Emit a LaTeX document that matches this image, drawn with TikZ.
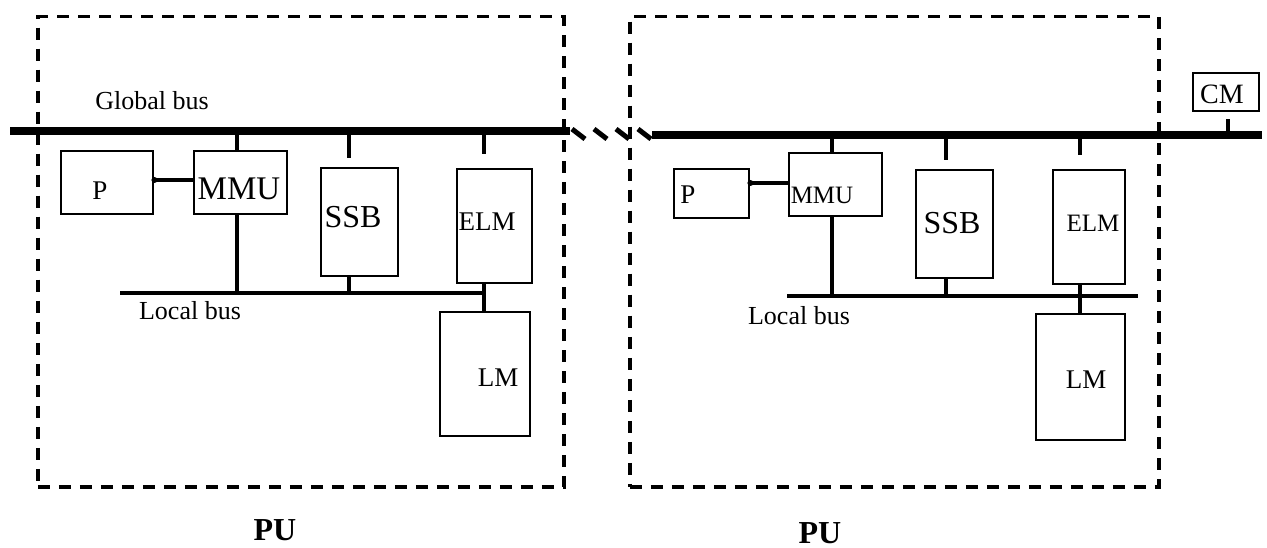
\documentclass[tikz,border=0pt]{standalone}
\usepackage{fontspec}
\setmainfont{Liberation Serif}
\begin{document}
\begin{tikzpicture}[x=1pt, y=-1pt, line cap=butt, line join=miter,
    box/.style={draw, line width=2.4pt, anchor=north west, inner sep=0pt},
    pubox/.style={draw, line width=3.5pt, dash pattern=on 12pt off 9pt, anchor=north west, inner sep=0pt},
    tick/.style={line width=4pt},
    gbus/.style={line width=8pt},
    lbus/.style={line width=4pt},
    hatch/.style={line width=5pt},
    txt/.style={inner sep=0pt, font=\fontsize{#1}{#1}\selectfont},
    txt/.default=26,
    pulbl/.style={inner sep=0pt, font=\fontsize{32}{32}\selectfont\bfseries}]
		% Picture size
		\useasboundingbox (0,0) rectangle (1267,548);
		
		% Dashed processing units
		\node[pubox, minimum width=526pt, minimum height=470pt] (puL) at (36,15) {};
		\node[pubox, minimum width=529pt, minimum height=470pt] (puR) at (628,15) {};
		\node[pulbl] (puLt) at (275,530) {PU};
		\node[pulbl] (puRt) at (820,533) {PU};
		
		% Global bus
		\coordinate (gbL1) at (10,131);
		\coordinate (gbL2) at (570,131);
		\coordinate (gbR1) at (652,135);
		\coordinate (gbR2) at (1262,135);
		\draw[gbus] (gbL1) -- (gbL2);
		\draw[gbus] (gbR1) -- (gbR2);
		\foreach \x in {572,594,616,638}
			\draw[hatch] (\x,129) -- (\x+13,139);
		\node[txt] (gbt) at (152,101) {Global bus};
		
		% Left unit
		\node[box, minimum width=92pt, minimum height=63pt] (pL) at (60,150) {};
		\node[box, minimum width=93pt, minimum height=63pt] (mmuL) at (193,150) {};
		\node[box, minimum width=77pt, minimum height=108pt] (ssbL) at (320,167) {};
		\node[box, minimum width=75pt, minimum height=114pt] (elmL) at (456,168) {};
		\node[box, minimum width=90pt, minimum height=124pt] (lmL) at (439,311) {};
		\node[txt=27] (pLt) at (100,191) {P};
		\node[txt=33] (mmuLt) at (239,189) {MMU};
		\node[txt=32] (ssbLt) at (353,217) {SSB};
		\node[txt=27] (elmLt) at (487,222) {ELM};
		\node[txt=27] (lmLt) at (498,378) {LM};
		
		\coordinate (lbL1) at (120,293);
		\coordinate (lbL2) at (484,293);
		\coordinate (tMMUL) at (237,131);
		\coordinate (tSSBL) at (349,131);
		\coordinate (tELML) at (484,131);
		\draw[lbus] (lbL1) -- (lbL2);
		\node[txt] (lbLt) at (190,311) {Local bus};
		
		\draw[tick] (tMMUL) -- (tMMUL |- mmuL.north);
		\draw[tick, shorten >=9pt] (tSSBL) -- (tSSBL |- ssbL.north);
		\draw[tick, shorten >=14pt] (tELML) -- (tELML |- elmL.north);
		\draw[tick] (pL.east |- 0,180) -- (mmuL.west |- 0,180);
		\fill (pL.east |- 0,180) circle (3pt);
		\draw[tick] (tMMUL |- mmuL.south) -- (tMMUL |- lbL1);
		\draw[tick] (tSSBL |- ssbL.south) -- (tSSBL |- lbL1);
		\draw[tick] (lbL2 |- elmL.south) -- (lbL2 |- lmL.north);
		
		% Right unit
		\node[box, minimum width=75pt, minimum height=49pt] (pR) at (673,168) {};
		\node[box, minimum width=93pt, minimum height=63pt] (mmuR) at (788,152) {};
		\node[box, minimum width=77pt, minimum height=108pt] (ssbR) at (915,169) {};
		\node[box, minimum width=72pt, minimum height=114pt] (elmR) at (1052,169) {};
		\node[box, minimum width=89pt, minimum height=126pt] (lmR) at (1035,313) {};
		\node[txt=27] (pRt) at (688,195) {P};
		\node[txt=25] (mmuRt) at (822,195) {MMU};
		\node[txt=32] (ssbRt) at (952,223) {SSB};
		\node[txt=25] (elmRt) at (1093,223) {ELM};
		\node[txt=27] (lmRt) at (1086,380) {LM};
		
		\coordinate (lbR1) at (787,296);
		\coordinate (lbR2) at (1138,296);
		\coordinate (jR) at (1080,296);
		\coordinate (tMMUR) at (832,135);
		\coordinate (tSSBR) at (946,135);
		\coordinate (tELMR) at (1080,135);
		\draw[lbus] (lbR1) -- (lbR2);
		\node[txt] (lbRt) at (799,316) {Local bus};
		
		\draw[tick] (tMMUR) -- (tMMUR |- mmuR.north);
		\draw[tick, shorten >=9pt] (tSSBR) -- (tSSBR |- ssbR.north);
		\draw[tick, shorten >=14pt] (tELMR) -- (tELMR |- elmR.north);
		\draw[tick] (pR.east |- 0,183) -- (mmuR.west |- 0,183);
		\fill (pR.east |- 0,183) circle (3pt);
		\draw[tick] (tMMUR |- mmuR.south) -- (tMMUR |- lbR1);
		\draw[tick] (tSSBR |- ssbR.south) -- (tSSBR |- lbR1);
		\draw[tick] (jR |- elmR.south) -- (jR |- lmR.north);
		
		% Common memory
		\node[box, minimum width=66pt, minimum height=38pt] (cm) at (1192,72) {};
		\node[txt=28] (cmt) at (1222,94) {CM};
		\coordinate (tCM) at (1228,135);
		\draw[tick, shorten >=7pt] (tCM) -- (tCM |- cm.south);
	\end{tikzpicture}
\end{document}
